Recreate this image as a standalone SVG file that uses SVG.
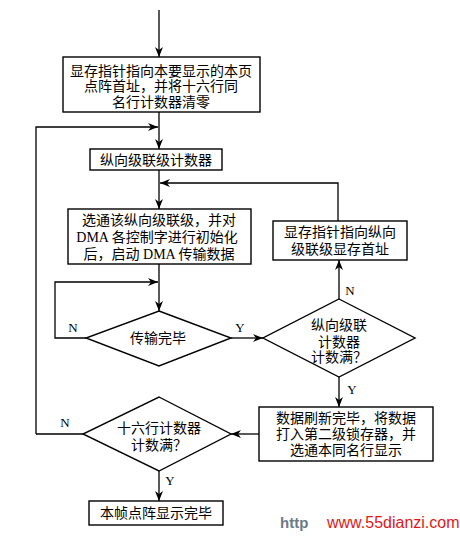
<svg xmlns="http://www.w3.org/2000/svg" width="460" height="538" viewBox="0 0 460 538">
<style>
.box{fill:#fff;stroke:#000;stroke-width:1.4}
.ln{fill:none;stroke:#000;stroke-width:1.3}
.t{font-family:"Liberation Serif","Noto Sans CJK SC",serif;font-size:14px;fill:#000;text-anchor:middle;dominant-baseline:central}
.lb{font-family:"Liberation Serif","Noto Sans CJK SC",serif;font-size:13px;fill:#000;text-anchor:middle;dominant-baseline:central}
</style>
<defs>
<marker id="ah" viewBox="0 0 10 8" refX="10" refY="4" markerWidth="10" markerHeight="8" markerUnits="userSpaceOnUse" orient="auto">
<path d="M0,0 L10,4 L0,8 L3,4 z" fill="#000"/>
</marker>
</defs>
<rect width="460" height="538" fill="#fff"/>
<g id="connectors">
<path class="ln" d="M159,10 V57" marker-end="url(#ah)"/>
<path class="ln" d="M159,112 V149" marker-end="url(#ah)"/>
<path class="ln" d="M36,434 V127 H158" marker-end="url(#ah)"/>
<path class="ln" d="M159,170 V209" marker-end="url(#ah)"/>
<path class="ln" d="M338,221 V183 H160" marker-end="url(#ah)"/>
<path class="ln" d="M159,264 V311" marker-end="url(#ah)"/>
<path class="ln" d="M86,338 H55 V282 H158" marker-end="url(#ah)"/>
<path class="ln" d="M231,338 H263" marker-end="url(#ah)"/>
<path class="ln" d="M339,299 V260" marker-end="url(#ah)"/>
<path class="ln" d="M339,377 V407" marker-end="url(#ah)"/>
<path class="ln" d="M259,434 H231" marker-end="url(#ah)"/>
<path class="ln" d="M83,434 H36"/>
<path class="ln" d="M159,471 V501" marker-end="url(#ah)"/>
<text class="lb" x="73" y="327">N</text>
<text class="lb" x="240" y="327">Y</text>
<text class="lb" x="350" y="290">N</text>
<text class="lb" x="352" y="389">Y</text>
<text class="lb" x="65" y="422">N</text>
<text class="lb" x="170" y="480">Y</text>
</g>
<g id="n1">
<rect class="box" x="63" y="57" width="197" height="55"/>
<text class="t" x="161" y="71">显存指针指向本要显示的本页</text>
<text class="t" x="161" y="86">点阵首址，并将十六行同</text>
<text class="t" x="161" y="102">名行计数器清零</text>
</g>
<g id="n2">
<rect class="box" x="90" y="149" width="132" height="21"/>
<text class="t" x="156" y="160">纵向级联级计数器</text>
</g>
<g id="n3">
<rect class="box" x="68" y="209" width="183" height="55"/>
<text class="t" x="159" y="220">选通该纵向级联级，并对</text>
<text class="t" x="157" y="237">DMA 各控制字进行初始化</text>
<text class="t" x="159" y="254">后，启动 DMA 传输数据</text>
</g>
<g id="n4">
<rect class="box" x="273" y="221" width="134" height="39"/>
<text class="t" x="340" y="232">显存指针指向纵向</text>
<text class="t" x="340" y="249">级联级显存首址</text>
</g>
<g id="d1">
<polygon class="box" points="159,311 231,338 159,366 86,338"/>
<text class="t" x="158" y="338">传输完毕</text>
</g>
<g id="d2">
<polygon class="box" points="339,299 415,338 339,377 263,338"/>
<text class="t" x="339" y="325">纵向级联</text>
<text class="t" x="339" y="342">计数器</text>
<text class="t" x="339" y="357">计数满？</text>
</g>
<g id="n5">
<rect class="box" x="259" y="407" width="174" height="54"/>
<text class="t" x="346" y="418">数据刷新完毕，将数据</text>
<text class="t" x="346" y="434">打入第二级锁存器，并</text>
<text class="t" x="346" y="450">选通本同名行显示</text>
</g>
<g id="d3">
<polygon class="box" points="159,397 231,434 159,471 83,434"/>
<text class="t" x="159" y="428">十六行计数器</text>
<text class="t" x="159" y="445">计数满？</text>
</g>
<g id="n6">
<rect class="box" x="89" y="501" width="134" height="24"/>
<text class="t" x="156" y="513">本帧点阵显示完毕</text>
</g>
<text x="280" y="528" style="font-family:'Liberation Sans',sans-serif;font-size:15px;font-weight:bold;fill:#6a7a8a">http</text>
<text x="327" y="528" style="font-family:'Liberation Sans',sans-serif;font-size:16px;fill:#e01818">www.55dianzi.com</text>
</svg>
